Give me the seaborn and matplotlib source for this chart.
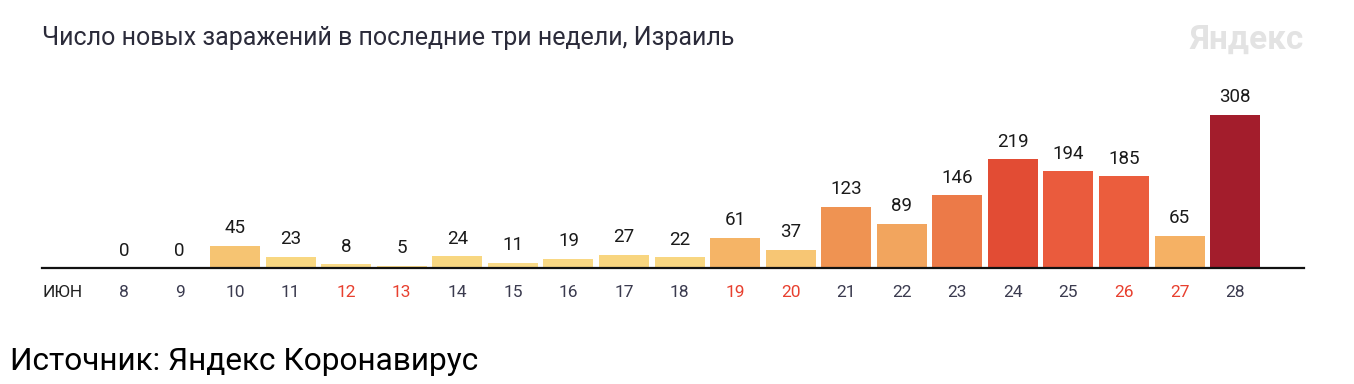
import matplotlib
matplotlib.use("Agg")
import matplotlib.pyplot as plt
import seaborn as sns

# Data: new cases per day, Israel, June
days = ["8", "9", "10", "11", "12", "13", "14", "15", "16", "17", "18",
        "19", "20", "21", "22", "23", "24", "25", "26", "27", "28"]
cases = [0, 0, 45, 23, 8, 5, 24, 11, 19, 27, 22,
         61, 37, 123, 89, 146, 219, 194, 185, 65, 308]
weekend_days = ["12", "13", "19", "20", "26", "27"]

bar_colors = ["#F9D98A", "#F9D98A", "#F6C472", "#F8D781", "#F9DA88", "#F9DA88",
              "#F8D781", "#F9DA88", "#F9D884", "#F8D57F", "#F8D681",
              "#F5B466", "#F7C674", "#EF9352", "#F2A55E", "#EC7A48",
              "#E24C34", "#EA5B3D", "#EB5D3D", "#F5B164", "#A31D2C"]

sns.set_theme(style="white")
plt.rcParams['font.family'] = ['Roboto', 'DejaVu Sans']

fig = plt.figure(figsize=(13.54, 3.84), dpi=100)
ax = fig.add_axes([42 / 1354, 116 / 384, 1262 / 1354, 199 / 384])

sns.barplot(x=days, y=cases, hue=days, palette=bar_colors, legend=False,
            width=0.9, linewidth=0, saturation=1, ax=ax)

for cont in ax.containers:
    ax.bar_label(cont, padding=6, fontsize=13.5, color="#1a1a1a")

ax.set_xlim(-1.476, 21.24)
ax.set_ylim(0, 400)
for side in ["top", "right", "left"]:
    ax.spines[side].set_visible(False)
ax.spines["bottom"].set_color("#111111")
ax.spines["bottom"].set_linewidth(1.6)
ax.set_yticks([])
ax.set_xlabel("")
ax.set_ylabel("")
ax.tick_params(axis="x", length=0, pad=12, labelsize=12.5)
for lbl in ax.get_xticklabels():
    lbl.set_color("#E8402F" if lbl.get_text() in weekend_days else "#3b3b4f")

# month label at left of axis
ax.text(-1.476, -0.084, "ИЮН", transform=ax.get_xaxis_transform(),
        ha="left", va="top", fontsize=12.5, color="#222222")

fig.text(42 / 1354, 1 - 38 / 384, "Число новых заражений в последние три недели, Израиль",
         ha="left", va="center", fontsize=18, color="#2b2b3a")
fig.text(1304 / 1354, 1 - 40 / 384, "Яндекс", ha="right", va="center",
         fontsize=24, fontweight="bold", color="#e3e3e3")
fig.text(10 / 1354, 1 - 362 / 384, "Источник: Яндекс Коронавирус",
         ha="left", va="center", fontsize=22.8, color="#000000")

fig.savefig("out.png", dpi=100)
